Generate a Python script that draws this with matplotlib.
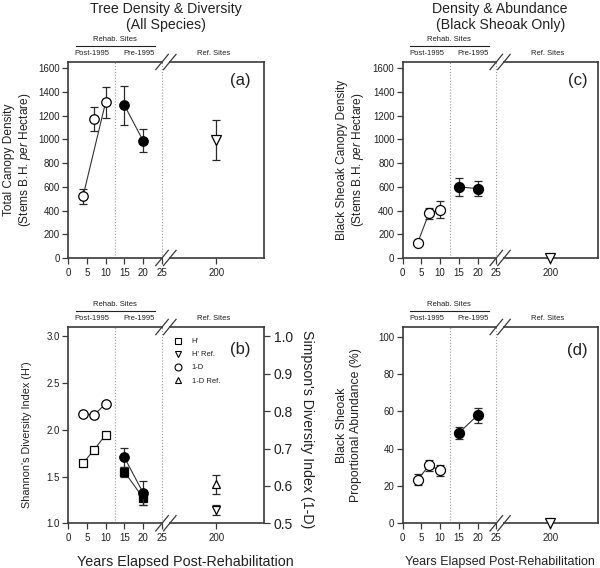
import numpy as np
import matplotlib
matplotlib.use("Agg")
import matplotlib.pyplot as plt
from matplotlib.lines import Line2D
from matplotlib.transforms import blended_transform_factory

plt.rcParams['font.family'] = ['Liberation Sans', 'DejaVu Sans']
plt.rcParams['mathtext.fontset'] = 'custom'
plt.rcParams['mathtext.rm'] = 'Liberation Sans'
plt.rcParams['mathtext.it'] = 'Liberation Sans:italic'

# ---------------- data ----------------
post_years = [4, 7, 10]
pre_years = [15, 20]
ref_years = [200]
x_ticks = [0, 5, 10, 15, 20, 25, 200]

# (a) total canopy density
a_post = [520, 1175, 1313]
a_post_err = [65, 100, 130]
a_post_link = [0, 2]
a_pre = [1288, 987]
a_pre_err = [163, 97]
a_ref = [995]
a_ref_err = [172]

# (b) diversity: Shannon H' (left axis) and Simpson 1-D (right axis)
b_h_post = [1.643, 1.789, 1.946]
b_h_pre = [1.55, 1.27]
b_h_pre_err = [0.05, 0.078]
b_h_ref = [1.14]
b_h_ref_err = [0.055]
b_d_post = [0.792, 0.790, 0.820]
b_d_pre = [0.676, 0.581]
b_d_pre_err = [0.025, 0.031]
b_d_ref = [0.604]
b_d_ref_err = [0.026]
legend_labels = ["H'", "H' Ref.", "1-D", "1-D Ref."]

# (c) black sheoak canopy density
c_post = [128, 377, 405]
c_post_err = [20, 45, 72]
c_pre = [600, 585]
c_pre_err = [78, 65]
c_ref = [0]

# (d) black sheoak proportional abundance
d_post = [23.3, 31.0, 28.4]
d_post_err = [3.0, 3.0, 2.8]
d_pre = [48.4, 57.9]
d_pre_err = [3.4, 3.9]
d_ref = [0]

# ---------------- broken x scale ----------------
K = 14.4 / 175.0
BREAK = 25.0


def fwd(x):
    x = np.asarray(x, dtype=float)
    return np.where(x <= BREAK, x, BREAK + (x - BREAK) * K)


def inv(y):
    y = np.asarray(y, dtype=float)
    return np.where(y <= BREAK, y, BREAK + (y - BREAK) / K)


XMAX_DISP = 52.1
XMAX = float(inv(XMAX_DISP))

DARK = '#222222'
SPINE = '#3a3a3a'
ECOL = '#2a2a2a'

fig = plt.figure(figsize=(6, 5.68), dpi=100)
ax_a = fig.add_axes([0.1133, 0.5458, 0.3267, 0.3451])
ax_b = fig.add_axes([0.1133, 0.0787, 0.3267, 0.3456])
ax_c = fig.add_axes([0.6712, 0.5458, 0.3250, 0.3451])
ax_d = fig.add_axes([0.6712, 0.0787, 0.3250, 0.3456])
ax_b2 = ax_b.twinx()


def setup_x(ax):
    ax.set_xscale('function', functions=(fwd, inv))
    ax.set_xlim(0, XMAX)
    ax.set_xticks(x_ticks)
    ax.set_xticklabels([str(t) for t in x_ticks])
    ax.minorticks_off()
    for s in ax.spines.values():
        s.set_color(SPINE)
        s.set_linewidth(1.2)
    ax.tick_params(axis='both', direction='out', length=4, width=0.9,
                   color=SPINE, labelsize=7, labelcolor=DARK, pad=2)
    ax.tick_params(axis='x', pad=3)
    ax.axvline(12.5, color='#9a9a9a', ls=':', lw=0.8, zorder=1)
    ax.axvline(25, color='#9a9a9a', ls=':', lw=0.8, zorder=1)


def break_marks(ax):
    f1 = BREAK / XMAX_DISP
    f2 = 27.05 / XMAX_DISP
    dx, dy = 0.032, 0.039
    for y in (0, 1):
        ax.plot([f1 + 0.004, f2 - 0.004], [y, y], transform=ax.transAxes,
                color='white', lw=2.6, clip_on=False, zorder=6,
                solid_capstyle='butt')
        for f in (f1, f2):
            ax.plot([f - dx, f + dx], [y - dy, y + dy], transform=ax.transAxes,
                    color=SPINE, lw=0.9, clip_on=False, zorder=7)


def headers(ax):
    tr = blended_transform_factory(ax.transData, ax.transAxes)
    kw = dict(transform=tr, ha='center', va='center', fontsize=5.5,
              color=DARK, clip_on=False)
    ax.text(12.4, 1.117, 'Rehab. Sites', **kw)
    ax.plot([2, 23], [1.083, 1.083], transform=tr, color=DARK, lw=0.8,
            clip_on=False)
    ax.text(6.4, 1.041, 'Post-1995', **kw)
    ax.text(18.8, 1.041, 'Pre-1995', **kw)
    ax.text(192, 1.041, 'Ref. Sites', **kw)


def series(ax, x, y, err, marker, face, ms, link=None, line=True):
    if err is not None:
        ax.errorbar(x, y, yerr=err, fmt='none', ecolor=ECOL, elinewidth=0.9,
                    capsize=3, capthick=0.9, zorder=2)
    if line:
        xs = [x[i] for i in link] if link is not None else x
        ys = [y[i] for i in link] if link is not None else y
        ax.plot(xs, ys, color='#333333', lw=0.8, zorder=2.5)
    ax.plot(x, y, ls='none', marker=marker, mfc=face, mec='black', mew=0.9,
            ms=ms, zorder=3, clip_on=False)


for ax in (ax_a, ax_b, ax_c, ax_d):
    setup_x(ax)
    headers(ax)

# ---------------- (a) ----------------
ax_a.set_ylim(0, 1653)
ax_a.set_yticks(np.arange(0, 1601, 200))
series(ax_a, post_years, a_post, a_post_err, 'o', 'white', 6.8, link=a_post_link)
series(ax_a, pre_years, a_pre, a_pre_err, 'o', 'black', 6.8)
series(ax_a, ref_years, a_ref, a_ref_err, 'v', 'white', 6.5, line=False)
ax_a.text(0.878, 0.908, '(a)', transform=ax_a.transAxes, fontsize=12,
          ha='center', va='center', color=DARK)
ax_a.set_ylabel('Total Canopy Density\n(Stems B.H. $\\it{per}$ Hectare)',
                fontsize=8.6, color=DARK, va='center', ha='center')
ax_a.yaxis.set_label_coords(-0.255, 0.5)
break_marks(ax_a)

# ---------------- (b) ----------------
ax_b.set_ylim(1.0, 3.1)
ax_b.set_yticks([1.0, 1.5, 2.0, 2.5, 3.0])
ax_b.set_yticklabels(['1.0', '1.5', '2.0', '2.5', '3.0'])
ax_b2.set_ylim(0.5, 1.025)
ax_b2.set_yticks([0.5, 0.6, 0.7, 0.8, 0.9, 1.0])
ax_b2.set_yticklabels(['0.5', '0.6', '0.7', '0.8', '0.9', '1.0'])
ax_b2.minorticks_off()
for k in ('left', 'bottom', 'top'):
    ax_b2.spines[k].set_visible(False)
ax_b.spines['right'].set_visible(False)
ax_b2.spines['right'].set_color(SPINE)
ax_b2.spines['right'].set_linewidth(1.2)
ax_b2.tick_params(axis='y', direction='out', length=4, width=0.9, color=SPINE,
                  labelsize=10, labelcolor=DARK, pad=3)
# re-apply shared x ticks after creating the twin
ax_b.set_xlim(0, XMAX)
ax_b.set_xticks(x_ticks)
ax_b.set_xticklabels([str(t) for t in x_ticks])
ax_b.xaxis.set_minor_locator(matplotlib.ticker.NullLocator())

series(ax_b, post_years, b_h_post, None, 's', 'white', 5.6)
series(ax_b, pre_years, b_h_pre, b_h_pre_err, 's', 'black', 5.6)
series(ax_b, ref_years, b_h_ref, b_h_ref_err, 'v', 'white', 6.2, line=False)
series(ax_b2, post_years, b_d_post, None, 'o', 'white', 6.8)
series(ax_b2, pre_years, b_d_pre, b_d_pre_err, 'o', 'black', 6.8)
series(ax_b2, ref_years, b_d_ref, b_d_ref_err, '^', 'white', 6.2, line=False)

handles = [Line2D([], [], ls='none', marker=m, mfc='white', mec='black',
                  mew=0.8, ms=5) for m in ('s', 'v', 'o', '^')]
ax_b2.legend(handles, legend_labels, loc='upper left',
             bbox_to_anchor=(0.541, 0.944), frameon=False, fontsize=5.5,
             handlelength=1.0, handletextpad=1.3, labelspacing=0.75,
             borderpad=0, borderaxespad=0, labelcolor=DARK)
ax_b2.text(0.878, 0.883, '(b)', transform=ax_b2.transAxes, fontsize=12,
           ha='center', va='center', color=DARK)
ax_b.set_ylabel("Shannon's Diversity Index (H')", fontsize=7.8, color=DARK,
                va='center', ha='center')
ax_b.yaxis.set_label_coords(-0.209, 0.449)
ax_b2.set_ylabel("Simpson's Diversity Index (1-D)", fontsize=10.2,
                 color=DARK, rotation=270, va='center', ha='center')
ax_b2.yaxis.set_label_coords(1.219, 0.48)
ax_b.set_xlabel('Years Elapsed Post-Rehabilitation', fontsize=10.3,
                color=DARK, va='center', ha='center')
ax_b.xaxis.set_label_coords(0.597, -0.196)
break_marks(ax_b2)

# ---------------- (c) ----------------
ax_c.set_ylim(0, 1653)
ax_c.set_yticks(np.arange(0, 1601, 200))
series(ax_c, post_years, c_post, c_post_err, 'o', 'white', 7.2)
series(ax_c, pre_years, c_pre, c_pre_err, 'o', 'black', 7.2)
series(ax_c, ref_years, c_ref, None, 'v', 'white', 7.0, line=False)
ax_c.text(0.897, 0.908, '(c)', transform=ax_c.transAxes, fontsize=12,
          ha='center', va='center', color=DARK)
ax_c.set_ylabel('Black Sheoak Canopy Density\n(Stems B.H. $\\it{per}$ Hectare)',
                fontsize=8.6, color=DARK, va='center', ha='center')
ax_c.yaxis.set_label_coords(-0.265, 0.5)
break_marks(ax_c)

# ---------------- (d) ----------------
ax_d.set_ylim(0, 105.2)
ax_d.set_yticks(np.arange(0, 101, 20))
series(ax_d, post_years, d_post, d_post_err, 'o', 'white', 7.2)
series(ax_d, pre_years, d_pre, d_pre_err, 'o', 'black', 7.2)
series(ax_d, ref_years, d_ref, None, 'v', 'white', 7.0, line=False)
ax_d.text(0.897, 0.88, '(d)', transform=ax_d.transAxes, fontsize=12,
          ha='center', va='center', color=DARK)
ax_d.set_ylabel('Black Sheoak\nProportional Abundance (%)', fontsize=8.8,
                color=DARK, va='center', ha='center')
ax_d.yaxis.set_label_coords(-0.275, 0.5)
ax_d.set_xlabel('Years Elapsed Post-Rehabilitation', fontsize=9,
                color=DARK, va='center', ha='center')
ax_d.xaxis.set_label_coords(0.5, -0.196)
break_marks(ax_d)

# ---------------- titles ----------------
fig.text(0.2767, 0.997, 'Tree Density & Diversity\n(All Species)',
         ha='center', va='top', fontsize=10.2, color=DARK)
fig.text(0.8337, 0.997, 'Density & Abundance\n(Black Sheoak Only)',
         ha='center', va='top', fontsize=10.2, color=DARK)

fig.savefig('out.png', dpi=100)
